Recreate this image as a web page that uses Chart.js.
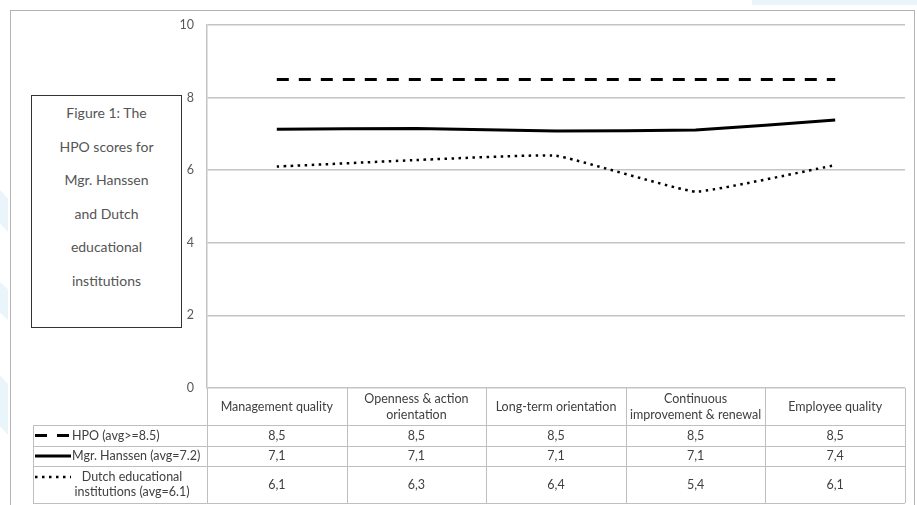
<!DOCTYPE html>
<html>
<head>
<meta charset="utf-8">
<script src="https://cdn.jsdelivr.net/npm/chart.js@4.4.0/dist/chart.umd.min.js"></script>
<style>
    html, body { margin: 0; padding: 0; background: #fff; }
    #wrap { position: relative; width: 917px; height: 505px; overflow: hidden; background: #fff; }
    .deco { position: absolute; background: #e9f4fb; }
    #frame { position: absolute; left: 10px; top: 10px; width: 905px; height: 510px; border: 1px solid #b4b4b4; box-sizing: border-box; }
    #chartBox { position: absolute; left: 0; top: 0; width: 917px; height: 505px; }
    #note {
        position: absolute; left: 31px; top: 95px; width: 151px; height: 233px;
        border: 1.5px solid #333; box-sizing: border-box; background: #fff;
        font-family: Lato, "Open Sans", sans-serif; font-size: 14px; color: #555;
        text-align: center; line-height: 33.6px;
    }
</style>
</head>
<body>
<div id="wrap">
    <div class="deco" style="left:752px; top:0; width:165px; height:5px;"></div>
    <div class="deco" style="left:0; top:190px; width:8px; height:42px; clip-path: polygon(0 0, 100% 20%, 100% 100%, 0 80%);"></div>
    <div class="deco" style="left:0; top:282px; width:8px; height:38px; clip-path: polygon(0 0, 100% 20%, 100% 100%, 0 80%);"></div>
    <div class="deco" style="left:0; top:375px; width:8px; height:60px; clip-path: polygon(0 0, 100% 15%, 100% 100%, 0 85%);"></div>
    <div id="frame"></div>
    <div id="chartBox"><canvas id="hpoChart"></canvas></div>
    <div id="note">Figure 1: The<br>HPO scores for<br>Mgr. Hanssen<br>and Dutch<br>educational<br>institutions</div>
</div>
<script>
// HPO scores
const categories = [
    ['Management quality'],
    ['Openness & action', 'orientation'],
    ['Long-term orientation'],
    ['Continuous', 'improvement & renewal'],
    ['Employee quality']
];
const seriesNames = [
    ['HPO (avg>=8.5)'],
    ['Mgr. Hanssen (avg=7.2)'],
    ['Dutch educational', 'institutions (avg=6.1)']
];
// plotted values (the lines use unrounded scores)
const hpoValues = [8.5, 8.5, 8.5, 8.5, 8.5];
const hanssenValues = [7.13, 7.15, 7.08, 7.11, 7.38];
const dutchValues = [6.1, 6.28, 6.4, 5.41, 6.14];
// values as printed in the data table
const hpoTable = ['8,5', '8,5', '8,5', '8,5', '8,5'];
const hanssenTable = ['7,1', '7,1', '7,1', '7,1', '7,4'];
const dutchTable = ['6,1', '6,3', '6,4', '5,4', '6,1'];
const yTicks = [0, 2, 4, 6, 8, 10];

const tableFont = '12.5px Lato, "Open Sans", sans-serif';
const tableColor = '#404040';
const gridColor = '#c4c4c4';

// Data table under the plot, drawn from the x scale's columns
const dataTablePlugin = {
    id: 'dataTable',
    afterDraw(chart) {
        const { ctx, chartArea, scales: { x } } = chart;
        const n = categories.length;
        const edges = [];
        for (let i = 0; i <= n; i++) edges.push(x.getPixelForValue(i - 0.5));
        const top = chartArea.bottom;
        const rows = [top, top + 37, top + 58, top + 78, top + 115];
        const legendLeft = 33;
        const right = edges[n];

        ctx.save();
        ctx.strokeStyle = '#bfbfbf';
        ctx.lineWidth = 1;
        ctx.setLineDash([]);
        ctx.beginPath();
        for (let r = 1; r < rows.length; r++) {
            ctx.moveTo(legendLeft, Math.round(rows[r]) + 0.5);
            ctx.lineTo(right, Math.round(rows[r]) + 0.5);
        }
        edges.forEach(e => {
            ctx.moveTo(Math.round(e) + 0.5, rows[0]);
            ctx.lineTo(Math.round(e) + 0.5, rows[4]);
        });
        ctx.moveTo(legendLeft + 0.5, rows[1]);
        ctx.lineTo(legendLeft + 0.5, rows[4]);
        ctx.stroke();

        ctx.fillStyle = tableColor;
        ctx.font = tableFont;
        ctx.textAlign = 'center';
        ctx.textBaseline = 'middle';

        // header row
        categories.forEach((lines, i) => {
            const cx = x.getPixelForValue(i);
            const cy = (rows[0] + rows[1]) / 2;
            lines.forEach((l, j) => ctx.fillText(l, cx, cy + (j - (lines.length - 1) / 2) * 16));
        });

        // value rows
        [hpoTable, hanssenTable, dutchTable].forEach((vals, r) => {
            const cy = (rows[r + 1] + rows[r + 2]) / 2;
            vals.forEach((v, i) => ctx.fillText(v, x.getPixelForValue(i), cy));
        });

        // legend keys
        chart.data.datasets.forEach((ds, r) => {
            const names = seriesNames[r];
            const cy = (rows[r + 1] + rows[r + 2]) / 2;
            const firstY = cy - (names.length - 1) / 2 * 15;
            ctx.save();
            ctx.beginPath();
            ctx.setLineDash(ds.borderDash || []);
            ctx.lineWidth = ds.borderWidth;
            ctx.strokeStyle = ds.borderColor;
            ctx.moveTo(35, firstY);
            ctx.lineTo(71, firstY);
            ctx.stroke();
            ctx.restore();
            if (names.length === 1) {
                ctx.textAlign = 'left';
                ctx.fillText(names[0], 72, cy);
            } else {
                ctx.textAlign = 'center';
                names.forEach((l, j) => ctx.fillText(l, 132, firstY + j * 15));
            }
        });
        ctx.restore();
    }
};

new Chart(document.getElementById('hpoChart'), {
    type: 'line',
    data: {
        labels: categories,
        datasets: [{
            label: seriesNames[0].join(' '),
            data: hpoValues,
            borderColor: '#000',
            borderWidth: 3,
            borderDash: [12, 10],
            pointRadius: 0,
            tension: 0
        }, {
            label: seriesNames[1].join(' '),
            data: hanssenValues,
            borderColor: '#000',
            borderWidth: 3,
            pointRadius: 0,
            tension: 0.1
        }, {
            label: seriesNames[2].join(' '),
            data: dutchValues,
            borderColor: '#000',
            borderWidth: 2.5,
            borderDash: [2.5, 4.5],
            pointRadius: 0,
            tension: 0.1
        }]
    },
    options: {
        responsive: true,
        maintainAspectRatio: false,
        animation: false,
        layout: {
            padding: { left: 0, right: 12, top: 25, bottom: 117 }
        },
        plugins: {
            legend: { display: false },
            tooltip: { enabled: false }
        },
        scales: {
            x: {
                type: 'category',
                offset: true,
                display: false
            },
            y: {
                min: 0,
                max: 10,
                afterBuildTicks: function (scale) {
                    scale.ticks = yTicks.map(v => ({ value: v }));
                },
                afterFit: function (scale) {
                    scale.width = 207;
                },
                grid: {
                    color: gridColor,
                    lineWidth: 1.5,
                    drawTicks: false
                },
                border: {
                    display: true,
                    color: gridColor,
                    width: 1.5
                },
                ticks: {
                    padding: 13,
                    color: '#595959',
                    font: { family: 'Lato, "Open Sans", sans-serif', size: 12.5 }
                }
            }
        }
    },
    plugins: [dataTablePlugin]
});
</script>
</body>
</html>
